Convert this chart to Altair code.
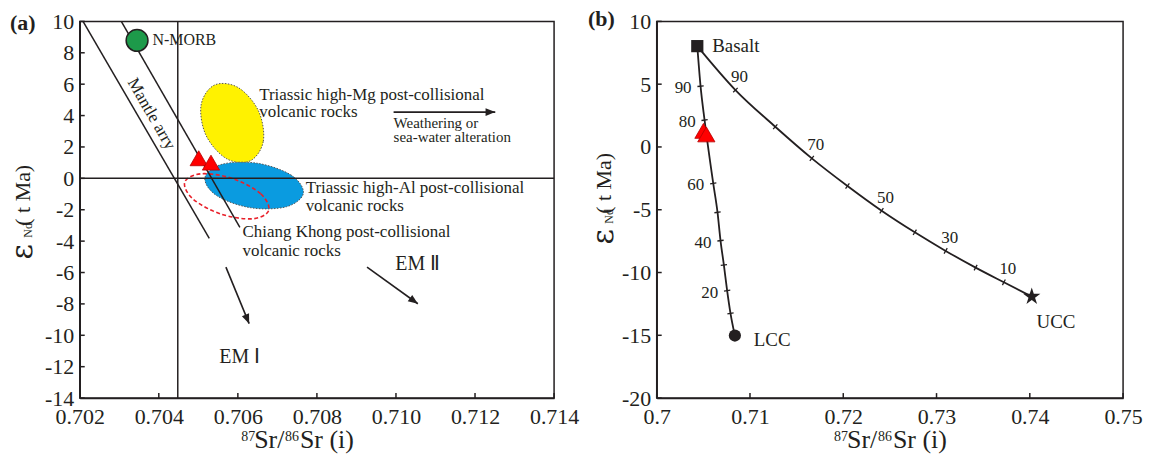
import math
import altair as alt
import pandas as pd

FONT = "Liberation Serif"
INK = "#231f20"

# ---------------- shared: studied samples (red triangles) ----------------
sample_sr = [0.70501, 0.70532]
sample_nd = [1.28, 1.00]

# ---------------- panel (a) ----------------
A_XDOM = [0.702, 0.714]
A_YDOM = [-14, 10]
A_XTICKS = [0.702, 0.704, 0.706, 0.708, 0.710, 0.712, 0.714]
A_YTICKS = [-14, -12, -10, -8, -6, -4, -2, 0, 2, 4, 6, 8, 10]

nmorb_sr = [0.70345]
nmorb_nd = [8.79]

mantle_x1 = [0.702083, 0.703051]
mantle_y1 = [10.0, 10.0]
mantle_x2 = [0.705277, 0.706051]
mantle_y2 = [-3.82, -3.12]

bulk_sr = [0.70448]
chur_nd = [0.0]

yel_x = [0.706306, 0.706644, 0.706520, 0.706008, 0.705408, 0.705071, 0.705194, 0.705706]
yel_y = [1.105, 2.368, 4.305, 5.784, 5.943, 4.679, 2.743, 1.263]
blu_x = [0.707657, 0.707355, 0.706500, 0.705595, 0.705166, 0.705469, 0.706323, 0.707229]
blu_y = [-0.952, 0.197, 0.959, 0.895, 0.038, -1.111, -1.873, -1.810]
red_x = [0.706780, 0.706576, 0.705870, 0.705073, 0.704657, 0.704861, 0.705567, 0.706364]
red_y = [-2.044, -0.978, -0.013, 0.292, -0.241, -1.308, -2.273, -2.578]

arr_x1 = [0.70994, 0.705698, 0.709268]
arr_y1 = [4.22, -5.66, -5.66]
arr_x2 = [0.712512, 0.706286, 0.710554]
arr_y2 = [4.22, -9.26, -7.99]

ann_text = ["Triassic high-Mg post-collisional", "volcanic rocks",
            "Triassic high-Al post-collisional", "volcanic rocks",
            "Chiang Khong post-collisional", "volcanic rocks"]
ann_x = [0.70654, 0.70654, 0.707715, 0.707715, 0.706117, 0.706117]
ann_y = [5.28, 4.22, -0.60, -1.79, -3.44, -4.60]

nmorb_lab = ["N-MORB"]
nmorb_lab_x = [0.70384]
nmorb_lab_y = [8.79]

small_text = ["Weathering or", "sea-water alteration"]
small_x = [0.70994, 0.70994]
small_y = [3.54, 2.65]

em_text = ["EM Ⅰ", "EM Ⅱ"]
em_x = [0.705529, 0.709984]
em_y = [-11.38, -5.43]

mantle_lab = ["Mantle arry"]
mantle_lab_x = [0.703815]
mantle_lab_y = [4.10]

# ---------------- panel (b) ----------------
B_XDOM = [0.70, 0.75]
B_YDOM = [-20, 10]
B_XTICKS = [0.7, 0.71, 0.72, 0.73, 0.74, 0.75]
B_YTICKS = [-20, -15, -10, -5, 0, 5, 10]

basalt_sr = [0.70435]; basalt_nd = [8.03]
lcc_sr = [0.70838]; lcc_nd = [-15.02]
ucc_sr = [0.74021]; ucc_nd = [-11.92]

c1_pct = [100, 90, 80, 60, 50, 40, 30, 20, 10, 0]
c1_x = [0.70435, 0.70470, 0.70513, 0.70606, 0.70652, 0.70684, 0.70720, 0.70755, 0.70791, 0.70838]
c1_y = [8.03, 4.84, 2.14, -2.90, -5.21, -7.46, -9.40, -11.44, -13.25, -15.02]
c1_labelled = [90, 80, 60, 40, 20]

c2_pct = [100, 90, 80, 70, 60, 50, 40, 30, 20, 10, 0]
c2_x = [0.70435, 0.70844, 0.71271, 0.71663, 0.72045, 0.72411, 0.72767, 0.73098, 0.73419, 0.73722, 0.74021]
c2_y = [8.03, 4.53, 1.61, -0.91, -3.11, -5.08, -6.80, -8.28, -9.61, -10.78, -11.92]
c2_labelled = [90, 70, 50, 30, 10]

end_text = ["Basalt", "LCC", "UCC"]
end_x = [0.70595, 0.71041, 0.74281]
end_y = [8.03, -15.36, -13.91]

# ---------------- layout ----------------
W_A, H_A = 476, 378
W_B, H_B = 468, 378
TICK = 5


class Panel:
    def __init__(self, xdom, ydom, xt, yt, xexpr, yexpr, W, H):
        self.xdom, self.ydom, self.W, self.H = xdom, ydom, W, H
        self.xt, self.yt = xt, yt
        common = dict(title=None, labelFlush=False, labelOverlap=False, ticks=False,
                      tickSize=0, grid=False, labelFont=FONT, labelFontSize=22,
                      labelColor=INK, domainColor=INK, domainWidth=1.5)
        self.ax = alt.Axis(values=xt, labelExpr=xexpr, labelPadding=9, **common)
        self.ay = alt.Axis(values=yt, labelExpr=yexpr, labelPadding=6, **common)

    def X(self, field="x"):
        return alt.X(field, type="quantitative",
                     scale=alt.Scale(domain=self.xdom, nice=False, zero=False), axis=self.ax)

    def Y(self, field="y"):
        return alt.Y(field, type="quantitative",
                     scale=alt.Scale(domain=self.ydom, nice=False, zero=False), axis=self.ay)

    def ticks(self):
        xl = alt.Chart(pd.DataFrame({"x": self.xt})).mark_rule(color=INK, strokeWidth=1.5).encode(
            x=self.X(), y=alt.value(self.H), y2=alt.value(self.H - TICK))
        yl = alt.Chart(pd.DataFrame({"y": self.yt})).mark_rule(color=INK, strokeWidth=1.5).encode(
            y=self.Y(), x=alt.value(0), x2=alt.value(TICK))
        return [xl, yl]

    def angles(self, xs, ys):
        sx = self.W / (self.xdom[1] - self.xdom[0])
        sy = self.H / (self.ydom[1] - self.ydom[0])
        out = []
        for i in range(len(xs)):
            j0, j1 = max(i - 1, 0), min(i + 1, len(xs) - 1)
            out.append(math.degrees(math.atan2(-(ys[j1] - ys[j0]) * sy,
                                               (xs[j1] - xs[j0]) * sx)) % 360)
        return out

    def seg_angles(self, x1, y1, x2, y2):
        sx = self.W / (self.xdom[1] - self.xdom[0])
        sy = self.H / (self.ydom[1] - self.ydom[0])
        return [math.degrees(math.atan2(-(d - b) * sy, (c - a) * sx)) % 360
                for a, b, c, d in zip(x1, y1, x2, y2)]

    def ellipse(self, xs, ys, **style):
        df = pd.DataFrame({"x": xs, "y": ys, "o": list(range(len(xs)))})
        return alt.Chart(df).mark_line(interpolate="cardinal-closed", **style).encode(
            x=self.X(), y=self.Y(), order="o:Q")

    def texts(self, txt, xs, ys, size, **kw):
        df = pd.DataFrame({"x": xs, "y": ys, "t": txt})
        return alt.Chart(df).mark_text(fontSize=size, font=FONT, color=INK, **kw).encode(
            x=self.X(), y=self.Y(), text="t:N")

    def points(self, xs, ys, **kw):
        return alt.Chart(pd.DataFrame({"x": xs, "y": ys})).mark_point(opacity=1, **kw).encode(
            x=self.X(), y=self.Y())


def fixed_text(text, px, py, size, angle=0, align="left", baseline="middle",
               font=FONT, weight="normal"):
    kw = dict(fontSize=size, font=font, align=align, baseline=baseline,
              color=INK, fontWeight=weight)
    if angle:
        kw["angle"] = angle
    return alt.Chart(pd.DataFrame({"t": [text]})).mark_text(**kw).encode(
        x=alt.value(px), y=alt.value(py), text="t:N")


def x_title(sup1, sr1, sup2, sr2):
    return [
        fixed_text("87", sup1, 421, 14, baseline="alphabetic"),
        fixed_text("Sr/", sr1, 428, 26, baseline="alphabetic"),
        fixed_text("86", sup2, 421, 14, baseline="alphabetic"),
        fixed_text("Sr (i)", sr2, 428, 26, baseline="alphabetic"),
    ]


def y_title(xb, y_eps, y_nd, y_rest):
    return [
        fixed_text("ε", xb, y_eps, 30, angle=270, baseline="alphabetic", font="DejaVu Serif"),
        fixed_text("Nd", xb, y_nd, 12, angle=270, baseline="alphabetic"),
        fixed_text("( t Ma)", xb - 1.5, y_rest, 22, angle=270, baseline="alphabetic"),
    ]


ARROW = "M0,0L-1,-0.4L-1,0.4Z"
TICKSHAPE = "M0,-1L0,1"
STAR = ("M0,-1L0.2245,-0.309L0.951,-0.309L0.3633,0.118L0.588,0.809L0,0.382"
        "L-0.588,0.809L-0.3633,0.118L-0.951,-0.309L-0.2245,-0.309Z")
TRI = dict(shape="triangle-up", size=300, filled=True, fill="#ff0000", stroke="#b40000",
           strokeWidth=0.8)

# ===================== panel (a) =====================
pa = Panel(A_XDOM, A_YDOM, A_XTICKS, A_YTICKS, "format(datum.value, '.3f')",
           "'' + datum.value", W_A, H_A)
a_layers = pa.ticks()
a_layers.append(pa.ellipse(yel_x, yel_y, fill="#fff200", stroke="#555555",
                           strokeWidth=1, strokeDash=[1.5, 1.5]))
a_layers.append(pa.ellipse(blu_x, blu_y, fill="#0a9be0", stroke="#555555",
                           strokeWidth=1, strokeDash=[1.5, 1.5]))
a_layers.append(pa.ellipse(red_x, red_y, stroke="#e8202a", strokeWidth=1.6,
                           strokeDash=[4, 2.5]))
a_layers.append(alt.Chart(pd.DataFrame({"x": bulk_sr})).mark_rule(color=INK, strokeWidth=1.5)
                .encode(x=pa.X()))
a_layers.append(alt.Chart(pd.DataFrame({"y": chur_nd})).mark_rule(color=INK, strokeWidth=1.5)
                .encode(y=pa.Y()))
mdf = pd.DataFrame({"x": mantle_x1, "y": mantle_y1, "xe": mantle_x2, "ye": mantle_y2})
a_layers.append(alt.Chart(mdf).mark_rule(color=INK, strokeWidth=1.5).encode(
    x=pa.X(), y=pa.Y(), x2="xe:Q", y2="ye:Q"))
adf = pd.DataFrame({"x": arr_x1, "y": arr_y1, "xe": arr_x2, "ye": arr_y2,
                    "ang": pa.seg_angles(arr_x1, arr_y1, arr_x2, arr_y2)})
a_layers.append(alt.Chart(adf).mark_rule(color=INK, strokeWidth=1.6).encode(
    x=pa.X(), y=pa.Y(), x2="xe:Q", y2="ye:Q"))
a_layers.append(alt.Chart(adf).mark_point(shape=ARROW, size=380, filled=True, color=INK,
                                          opacity=1).encode(
    x=pa.X("xe"), y=pa.Y("ye"), angle=alt.Angle("ang:Q", scale=None)))
a_layers.append(pa.points(nmorb_sr, nmorb_nd, shape="circle", size=480, filled=True,
                          fill="#1d9a4a", stroke=INK, strokeWidth=1.5))
a_layers.append(pa.points(sample_sr, sample_nd, **TRI))
a_layers.append(pa.texts(ann_text, ann_x, ann_y, 17, align="left", baseline="middle"))
a_layers.append(pa.texts(nmorb_lab, nmorb_lab_x, nmorb_lab_y, 16, align="left", baseline="middle"))
a_layers.append(pa.texts(small_text, small_x, small_y, 15, align="left", baseline="middle"))
a_layers.append(pa.texts(em_text, em_x, em_y, 20, align="left", baseline="middle"))
a_layers.append(pa.texts(mantle_lab, mantle_lab_x, mantle_lab_y, 17, align="center",
                         baseline="middle", angle=60))
a_layers.append(fixed_text("(a)", -70, 2, 22, weight="bold"))
a_layers += x_title(162, 175, 206, 221)
a_layers += y_title(-48, 239, 217, 205)

panel_a = alt.layer(*a_layers).properties(width=W_A, height=H_A)

# ===================== panel (b) =====================
pb = Panel(B_XDOM, B_YDOM, B_XTICKS, B_YTICKS, "'' + datum.value", "'' + datum.value",
           W_B, H_B)
b_layers = pb.ticks()
for cx, cy in ((c1_x, c1_y), (c2_x, c2_y)):
    cdf = pd.DataFrame({"x": cx, "y": cy, "o": list(range(len(cx)))})
    b_layers.append(alt.Chart(cdf).mark_line(color=INK, strokeWidth=1.8,
                                             interpolate="monotone").encode(
        x=pb.X(), y=pb.Y(), order="o:Q"))

for cx, cy, cp, lab, lab_kw in (
        (c1_x, c1_y, c1_pct, c1_labelled, dict(align="right", dx=-9, dy=2)),
        (c2_x, c2_y, c2_pct, c2_labelled, dict(align="center", dx=4, dy=-13))):
    tdf = pd.DataFrame({"x": cx, "y": cy, "p": cp, "ang": pb.angles(cx, cy)}).iloc[1:-1]
    tdf = tdf.reset_index(drop=True)
    b_layers.append(alt.Chart(tdf).mark_point(shape=TICKSHAPE, size=40, filled=False, color=INK,
                                              strokeWidth=1.3, opacity=1).encode(
        x=pb.X(), y=pb.Y(), angle=alt.Angle("ang:Q", scale=None)))
    ldf = tdf[tdf["p"].isin(lab)].copy()
    ldf["t"] = ldf["p"].astype(str)
    b_layers.append(alt.Chart(ldf).mark_text(fontSize=17, font=FONT, color=INK,
                                             baseline="middle", **lab_kw).encode(
        x=pb.X(), y=pb.Y(), text="t:N"))

b_layers.append(pb.points(sample_sr, sample_nd, **TRI))
b_layers.append(pb.points(basalt_sr, basalt_nd, shape="square", size=150, filled=True, color=INK))
b_layers.append(pb.points(lcc_sr, lcc_nd, shape="circle", size=150, filled=True, color=INK))
b_layers.append(pb.points(ucc_sr, ucc_nd, shape=STAR, size=330, filled=True, color=INK))
b_layers.append(pb.texts(end_text[:2], end_x[:2], end_y[:2], 19, align="left", baseline="middle"))
b_layers.append(pb.texts(end_text[2:], end_x[2:], end_y[2:], 19, align="center",
                         baseline="middle"))
b_layers.append(fixed_text("(b)", -69, -2, 22, weight="bold"))
b_layers += x_title(178, 191, 222, 237)
b_layers += y_title(-44, 224, 203, 193)

panel_b = alt.layer(*b_layers).properties(width=W_B, height=H_B)

chart = alt.hconcat(panel_a, panel_b, spacing=103, bounds="flush").configure_view(
    stroke=INK, strokeWidth=1.5
).configure_axis(
    labelFont=FONT, labelFontSize=22, labelColor=INK, domainColor=INK, domainWidth=1.5
).properties(
    autosize=alt.AutoSizeParams(type="none"),
    padding={"left": 72, "top": 12, "right": 1068, "bottom": 430},
)

chart.save("out.html", embed_options={"renderer": "svg", "actions": False})
